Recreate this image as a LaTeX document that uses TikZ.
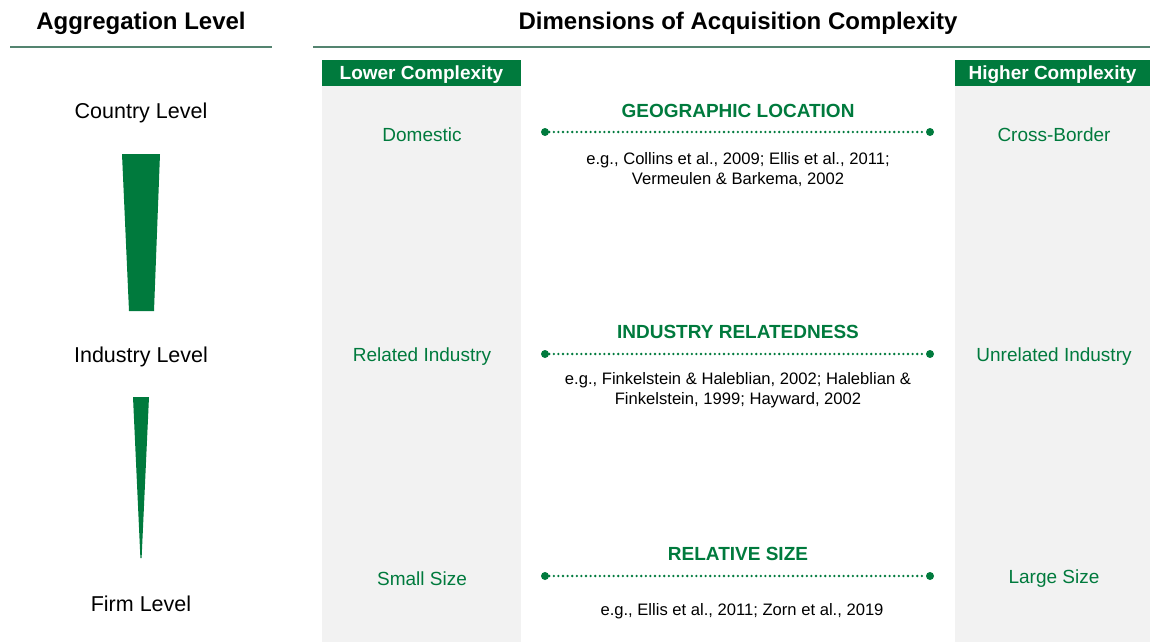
\documentclass[tikz,border=0pt]{standalone}
\usepackage{fontspec}
\setmainfont{Liberation Sans}
\usetikzlibrary{positioning}
\definecolor{accgreen}{RGB}{0,122,61}
\definecolor{colgray}{RGB}{242,242,242}
\definecolor{rulegreen}{RGB}{84,132,112}
\tikzset{
  title node/.style={font=\fontsize{24}{28}\selectfont\bfseries, inner sep=0pt, yshift=-1pt},
  level node/.style={font=\fontsize{21.5}{26}\selectfont, inner sep=0pt, yshift=-2pt},
  head node/.style={fill=accgreen, text=white, font=\fontsize{19}{22}\selectfont\bfseries,
    minimum width=199pt, minimum height=26pt, inner sep=0pt, text height=14pt, text depth=2pt},
  dim node/.style={text=accgreen, font=\fontsize{19}{22}\selectfont\bfseries, inner sep=0pt, yshift=-1pt},
  end node/.style={text=accgreen, font=\fontsize{19}{22}\selectfont, inner sep=0pt, yshift=-1.5pt},
  cite node/.style={font=\fontsize{16.6}{20}\selectfont, align=center, inner sep=0pt, yshift=-1.5pt},
  dot node/.style={circle, fill=accgreen, inner sep=0pt, minimum size=8pt},
  scale line/.style={accgreen, line width=2.6pt, line cap=round, dash pattern=on 0pt off 4.6pt},
}

\begin{document}
\begin{tikzpicture}[x=1pt, y=-1pt]
        \useasboundingbox (0,0) rectangle (1150,642);
        % Columns
        \fill[colgray] (322,60) rectangle (521,642);
        \fill[colgray] (955,60) rectangle (1150,642);
        \node[head node] (low) at (421.5,73) {Lower Complexity};
        \node[head node, minimum width=195pt] (high) at (1052.5,73) {Higher Complexity};
        % Titles
        \node[title node] (aggtitle) at (141,22) {Aggregation Level};
        \node[title node] (dimtitle) at (738,22) {Dimensions of Acquisition Complexity};
        \draw[rulegreen, line width=1.2pt] (10,47) -- (272,47);
        \draw[rulegreen, line width=1.2pt] (313,47) -- (1150,47);
        % Levels
        \node[level node] (country) at (141,111) {Country Level};
        \node[level node] (industry) at (141,355) {Industry Level};
        \node[level node] (firm) at (141,602) {Firm Level};
        \fill[accgreen] (122,154) -- (160,154) -- (154,311) -- (129,311) -- cycle;
        \fill[accgreen] (133,397) -- (149,397) -- (141.6,558) -- (140.4,558) -- cycle;
        % Geographic location
        \node[dim node] (geo) at (738,110) {GEOGRAPHIC LOCATION};
        \node[dot node] (geoL) at (545,132) {};
        \node[dot node] (geoR) at (930,132) {};
        \node[cite node] (geocite) at (738,168) {e.g., Collins et al., 2009; Ellis et al., 2011;\\Vermeulen \& Barkema, 2002};
        \node[end node] (domestic) at (422,133) {Domestic};
        \node[end node] (cross) at (1054,133) {Cross-Border};
        % Industry relatedness
        \node[dim node] (ind) at (738,331) {INDUSTRY RELATEDNESS};
        \node[dot node] (indL) at (545,354) {};
        \node[dot node] (indR) at (930,354) {};
        \node[cite node] (indcite) at (738,389) {e.g., Finkelstein \& Haleblian, 2002; Haleblian \&\\Finkelstein, 1999; Hayward, 2002};
        \node[end node] (related) at (422,355) {Related Industry};
        \node[end node] (unrelated) at (1054,355) {Unrelated Industry};
        % Relative size
        \node[dim node] (size) at (738,553) {RELATIVE SIZE};
        \node[dot node] (sizeL) at (545,576) {};
        \node[dot node] (sizeR) at (930,576) {};
        \node[cite node] (sizecite) at (742,610) {e.g., Ellis et al., 2011; Zorn et al., 2019};
        \node[end node] (small) at (422,577) {Small Size};
        \node[end node] (large) at (1054,577) {Large Size};
        % Scales
        \draw[scale line] (geoL) -- (geoR);
        \draw[scale line] (indL) -- (indR);
        \draw[scale line] (sizeL) -- (sizeR);
\end{tikzpicture}
\end{document}
